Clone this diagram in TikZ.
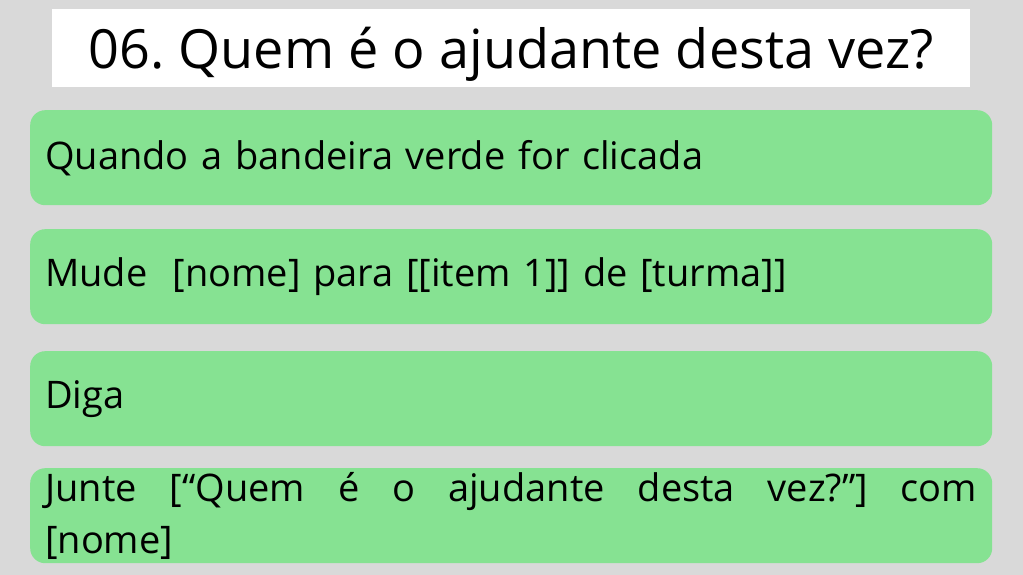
\documentclass[tikz,border=0pt]{standalone}
\usepackage{fontspec}
\setmainfont{Open Sans}
\frenchspacing
\definecolor{fundo}{HTML}{D9D9D9}
\definecolor{verde}{HTML}{86E292}
\tikzset{
  titulo/.style={fill=white, minimum width=918pt, minimum height=78pt, inner sep=0pt,
    text depth=0pt, font=\fontsize{54}{60}\selectfont},
  bloco/.style={fill=verde, rounded corners=15pt, anchor=north west,
    minimum width=962pt, minimum height=95pt, inner xsep=15pt, inner ysep=0pt,
    text width=932pt, align=left, font=\fontsize{38}{52}\selectfont},
}
\begin{document}
\begin{tikzpicture}[x=1pt,y=-1pt]
% fundo
\fill[fundo] (0,0) rectangle (1023,575);
\useasboundingbox (0,0) rectangle (1023,575);
% titulo
\node[titulo] (titulo) at (511,48) {06. Quem é o ajudante desta vez?};
% blocos
\node[bloco] (quando) at (30,110) {Quando a bandeira verde for clicada};
\node[bloco] (mude) at (30,229) {Mude~ [nome] para [[item 1]] de [turma]]};
\node[bloco] (diga) at (30,351) {Diga};
\node[bloco, align=justify] (junte) at (30,468) {Junte [“Quem é o ajudante desta vez?”] com\linebreak{}[nome]};
\end{tikzpicture}
\end{document}
